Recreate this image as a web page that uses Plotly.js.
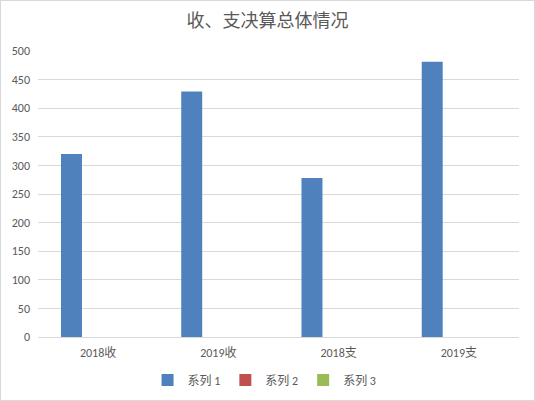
<!DOCTYPE html>
<html><head><meta charset="utf-8">
<script src="https://cdn.plot.ly/plotly-3.0.1.min.js"></script>
<style>
html,body{margin:0;padding:0;background:#fff;}
#chart{width:535px;height:401px;box-sizing:border-box;border:1px solid #d9d9d9;}
</style></head>
<body><div id="chart"></div>
<script>
const categories = ["2018收", "2019收", "2018支", "2019支"];
const series1 = [320, 429, 278, 481];
const series2 = [null, null, null, null];
const series3 = [null, null, null, null];
const seriesNames = ["系列 1", "系列 2", "系列 3"];
const colors = ["#4f81bd", "#c0504d", "#9bbb59"];
const yTicks = [0, 50, 100, 150, 200, 250, 300, 350, 400, 450, 500];

const font = "Calibri, Carlito, 'Noto Sans CJK SC', 'Liberation Sans', sans-serif";
const traces = [series1, series2, series3].map((v, i) => ({
  type: "bar", x: categories, y: v, name: seriesNames[i],
  marker: {color: colors[i]}, hoverinfo: "none"
}));
Plotly.newPlot("chart", traces, {
  width: 533, height: 399,
  margin: {l: 37, r: 15, t: 50, b: 63, autoexpand: false},
  paper_bgcolor: "#fff", plot_bgcolor: "#fff",
  title: {text: "收、支决算总体情况", x: 0.5, xanchor: "center", y: 0.95, yanchor: "middle",
    font: {family: "'Noto Sans CJK SC', sans-serif", size: 18, color: "#595959"}},
  barmode: "group", bargap: 0.335, bargroupgap: 0.213,
  xaxis: {type: "category", showline: true, linecolor: "#d9d9d9", linewidth: 1,
    ticks: "", ticklabelstandoff: 5,
    tickfont: {family: font, size: 12, color: "#595959"}, showgrid: false, automargin: false},
  yaxis: {range: [0, 500], tickvals: yTicks, showline: false, zeroline: false,
    gridcolor: "#d9d9d9", gridwidth: 1, ticks: "", ticklen: 0, automargin: false,
    ticklabelstandoff: 7,
    tickfont: {family: font, size: 12, color: "#595959"}},
  showlegend: true,
  legend: {orientation: "h", x: 0.471, xanchor: "center", y: -0.15, yanchor: "middle",
    font: {family: font, size: 12, color: "#595959"}, itemwidth: 30, traceorder: "normal"}
}, {displayModeBar: false, staticPlot: true});
</script></body></html>
